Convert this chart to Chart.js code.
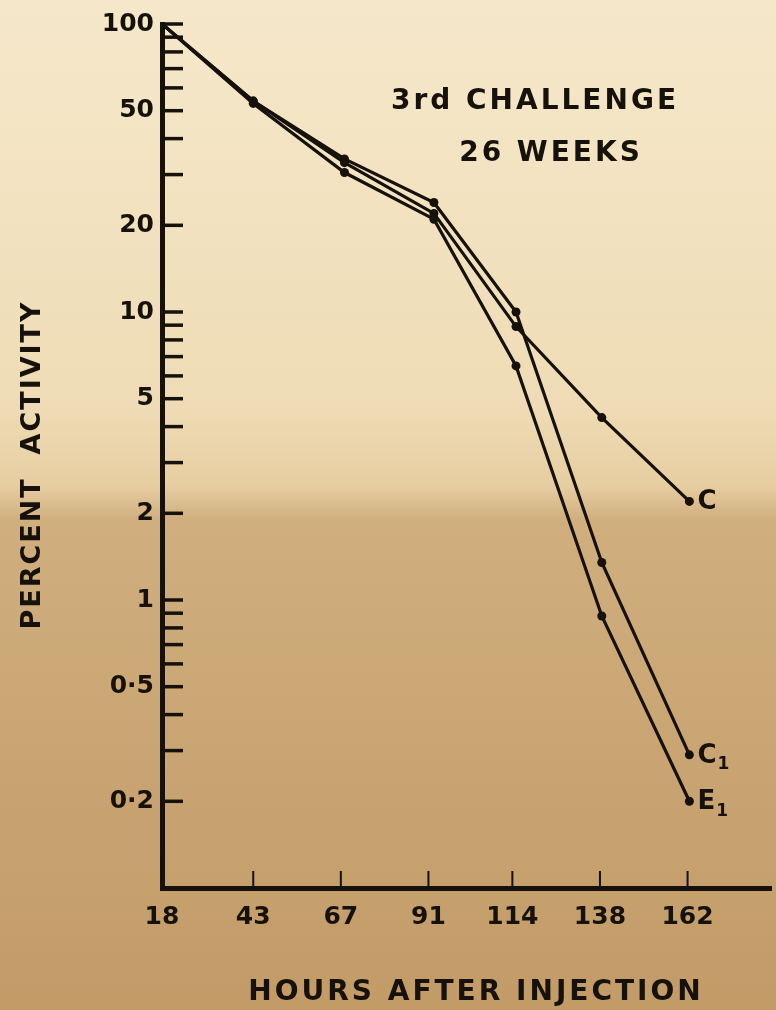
<!DOCTYPE html>
<html>
<head>
<meta charset="utf-8">
<script src="https://cdn.jsdelivr.net/npm/chart.js@4.4.1/dist/chart.umd.min.js"></script>
<style>
html, body { margin: 0; padding: 0; background: #e9d5ad; }
canvas { display: block; }
</style>
</head>
<body>
<canvas id="decayChart" width="776" height="1010"></canvas>
<script>
// hours after injection at which each count was taken
var hours = [18, 43, 68, 92.5, 115, 138.5, 162.5];
// percent activity remaining
var seriesC  = [100, 54, 33, 22, 8.9, 4.3, 2.2];
var seriesC1 = [100, 54, 34, 24, 10, 1.35, 0.29];
var seriesE1 = [100, 53, 30.5, 21, 6.5, 0.88, 0.2];

var xTicks = [18, 43, 67, 91, 114, 138, 162];
var yTicks = [100, 50, 20, 10, 5, 2, 1, 0.5, 0.2];
var yMinorTicks = [90, 80, 70, 60, 40, 30, 9, 8, 7, 6, 4, 3, 0.9, 0.8, 0.7, 0.6, 0.4, 0.3];

var ink = '#16110a';
var letterFont = '"DejaVu Sans", sans-serif';

function points(values) {
    return hours.map(function(h, i) { return {x: h, y: values[i]}; });
}

var endLabels = [
    {main: 'C', sub: ''},
    {main: 'C', sub: '1'},
    {main: 'E', sub: '1'}
];

var paperPlugin = {
    id: 'paper',
    beforeDraw: function(chart) {
        var ctx = chart.ctx;
        var g = ctx.createLinearGradient(0, 0, 0, chart.height);
        g.addColorStop(0, '#f5e8ca');
        g.addColorStop(0.40, '#efdcb6');
        g.addColorStop(0.48, '#e7cea2');
        g.addColorStop(0.515, '#d0ae7e');
        g.addColorStop(1, '#c29b67');
        ctx.save();
        ctx.fillStyle = g;
        ctx.fillRect(0, 0, chart.width, chart.height);
        ctx.restore();
    }
};

// tick marks point inwards on this graph
var tickPlugin = {
    id: 'inwardTicks',
    afterDraw: function(chart) {
        var ctx = chart.ctx;
        var xs = chart.scales.x, ys = chart.scales.y;
        var left = chart.chartArea.left, bottom = chart.chartArea.bottom;
        ctx.save();
        ctx.strokeStyle = ink;
        ctx.lineWidth = 3.5;
        yTicks.concat(yMinorTicks).forEach(function(v) {
            var py = ys.getPixelForValue(v);
            ctx.beginPath();
            ctx.moveTo(left, py);
            ctx.lineTo(left + 21, py);
            ctx.stroke();
        });
        ctx.lineWidth = 2;
        xTicks.slice(1).forEach(function(v) {
            var px = xs.getPixelForValue(v);
            ctx.beginPath();
            ctx.moveTo(px, bottom);
            ctx.lineTo(px, bottom - 17);
            ctx.stroke();
        });
        ctx.restore();
    }
};

// hand lettering: note, curve labels and spaced-out axis titles
var letteringPlugin = {
    id: 'lettering',
    afterDatasetsDraw: function(chart) {
        var ctx = chart.ctx, area = chart.chartArea;
        ctx.save();
        ctx.fillStyle = ink;
        ctx.textAlign = 'center';
        ctx.textBaseline = 'middle';
        ctx.font = 'bold 28px ' + letterFont;
        ctx.letterSpacing = '3px';
        ctx.fillText('3rd CHALLENGE', 535, 102);
        ctx.fillText('26 WEEKS', 551, 154);

        ctx.fillText('HOURS AFTER INJECTION', 476, 993);

        ctx.save();
        ctx.translate(33, (area.top + area.bottom) / 2 + 9);
        ctx.rotate(-Math.PI / 2);
        ctx.font = 'bold 27px ' + letterFont;
        ctx.letterSpacing = '2px';
        ctx.fillText('PERCENT  ACTIVITY', 0, 0);
        ctx.restore();

        ctx.textAlign = 'left';
        ctx.letterSpacing = '0px';
        endLabels.forEach(function(lab, i) {
            var pt = chart.getDatasetMeta(i).data[hours.length - 1];
            ctx.font = 'bold 26px ' + letterFont;
            ctx.fillText(lab.main, pt.x + 8, pt.y + 1);
            if (lab.sub) {
                var w = ctx.measureText(lab.main).width;
                ctx.font = 'bold 17px ' + letterFont;
                ctx.fillText(lab.sub, pt.x + 8 + w + 1, pt.y + 10);
            }
        });
        ctx.restore();
    }
};

var lineData = {
    datasets: [
        {label: 'C', data: points(seriesC)},
        {label: 'C1', data: points(seriesC1)},
        {label: 'E1', data: points(seriesE1)}
    ]
};

var lineOptions = {
    responsive: false,
    animation: false,
    layout: {padding: {top: 24, right: -6, bottom: 0, left: 0}},
    plugins: {
        legend: {display: false},
        tooltip: {enabled: false}
    },
    elements: {
        line: {borderColor: ink, borderWidth: 3.2, tension: 0, fill: false},
        point: {radius: 4.5, backgroundColor: ink, borderWidth: 0}
    },
    scales: {
        x: {
            type: 'linear',
            min: 18,
            max: 185,
            afterBuildTicks: function(scale) {
                scale.ticks = xTicks.map(function(v) { return {value: v}; });
            },
            afterFit: function(scale) { scale.height = 122; },
            grid: {display: false, drawTicks: false},
            border: {display: true, color: ink, width: 5},
            ticks: {
                color: ink,
                autoSkip: false,
                maxRotation: 0,
                padding: 14,
                font: {family: letterFont, size: 25, weight: 'bold'}
            }
        },
        y: {
            type: 'logarithmic',
            min: 0.1,
            max: 100,
            afterBuildTicks: function(scale) {
                scale.ticks = yTicks.map(function(v) { return {value: v}; });
            },
            afterFit: function(scale) { scale.width = 162; },
            grid: {display: false, drawTicks: false},
            border: {display: true, color: ink, width: 5},
            ticks: {
                color: ink,
                autoSkip: false,
                padding: 8,
                font: {family: letterFont, size: 25, weight: 'bold'},
                callback: function(value) { return String(value).replace('.', '·'); }
            }
        }
    }
};

var ctx = document.getElementById('decayChart').getContext('2d');
new Chart(ctx, {type: 'line', data: lineData, options: lineOptions, plugins: [paperPlugin, tickPlugin, letteringPlugin]});
</script>
</body>
</html>
